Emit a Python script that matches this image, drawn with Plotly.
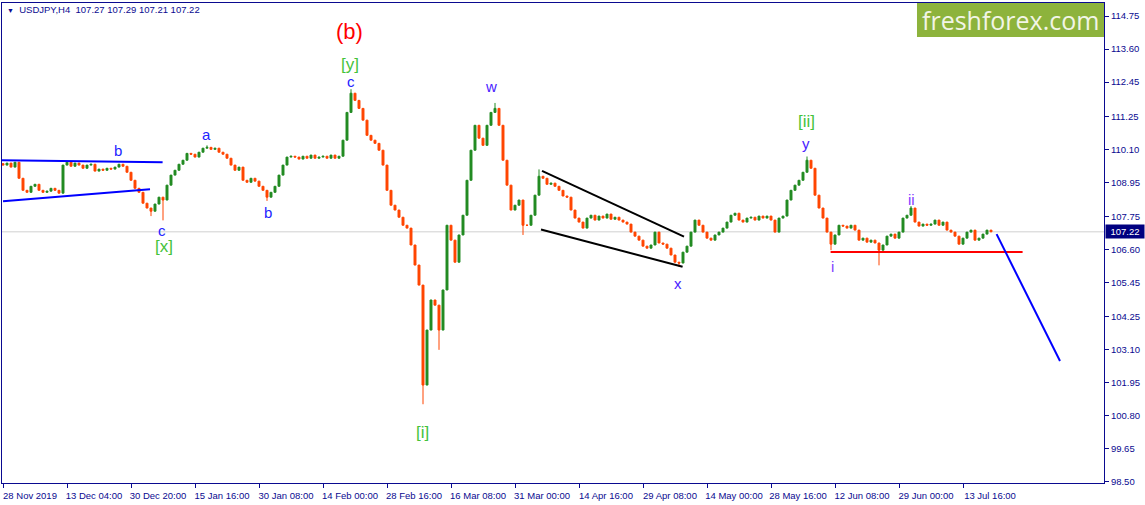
import plotly.graph_objects as go

# ---------------- data ----------------
tick_labels = ["28 Nov 2019", "13 Dec 04:00", "30 Dec 20:00", "15 Jan 16:00", "30 Jan 08:00",
               "14 Feb 00:00", "28 Feb 16:00", "16 Mar 08:00", "31 Mar 00:00", "14 Apr 16:00",
               "29 Apr 08:00", "14 May 00:00", "28 May 16:00", "12 Jun 08:00", "29 Jun 00:00",
               "13 Jul 16:00"]
tick_bars = [0, 16, 32, 48, 64, 80, 96, 112, 128, 144, 160, 176, 192, 208, 224, 240]

first_open = 109.60
closes = [
    109.55, 109.62, 109.48, 109.65, 109.09, 108.67, 108.60, 108.81, 108.88, 108.67,
    108.60, 108.64, 108.74, 108.67, 108.57, 109.55, 109.65, 109.51, 109.62, 109.55,
    109.44, 109.55, 109.58, 109.34, 109.41, 109.37, 109.44, 109.41, 109.48, 109.58,
    109.51, 109.30, 109.02, 108.74, 108.60, 108.22, 108.05, 107.94, 108.19, 108.43,
    108.33, 108.85, 109.20, 109.37, 109.58, 109.72, 109.96, 109.93, 109.83, 110.00,
    110.14, 110.17, 110.10, 110.14, 110.00, 109.93, 109.79, 109.55, 109.37, 109.48,
    109.02, 108.95, 109.09, 108.99, 108.81, 108.67, 108.43, 108.60, 108.81, 109.20,
    109.55, 109.83, 109.86, 109.83, 109.76, 109.86, 109.79, 109.90, 109.79, 109.83,
    109.86, 109.79, 109.90, 109.79, 109.86, 110.42, 111.39, 112.06, 111.81, 111.53,
    111.12, 110.59, 110.42, 110.31, 110.07, 109.55, 108.67, 108.15, 107.98, 107.73,
    107.45, 107.35, 106.76, 106.06, 105.36, 101.87, 103.79, 104.84, 104.66, 103.79,
    105.19, 107.45, 106.93, 106.16, 107.11, 107.80, 109.02, 110.07, 110.94, 110.49,
    110.24, 110.94, 111.39, 111.53, 110.94, 109.72, 108.85, 107.98, 108.15, 108.33,
    107.45, 107.45, 107.80, 108.50, 109.16, 109.09, 108.88, 108.92, 108.81, 108.67,
    108.47, 108.43, 107.98, 107.70, 107.56, 107.35, 107.70, 107.80, 107.63, 107.77,
    107.70, 107.84, 107.66, 107.73, 107.63, 107.56, 107.49, 107.21, 107.07, 106.93,
    106.72, 106.65, 106.76, 107.21, 106.83, 106.79, 106.65, 106.41, 106.16, 106.13,
    106.51, 106.72, 107.21, 107.63, 107.45, 107.21, 107.00, 106.93, 107.11, 107.21,
    107.35, 107.56, 107.80, 107.87, 107.63, 107.56, 107.70, 107.73, 107.63, 107.77,
    107.70, 107.77, 107.63, 107.21, 107.70, 107.77, 108.33, 108.67, 108.85, 109.02,
    109.30, 109.72, 109.44, 108.50, 108.05, 107.70, 107.21, 106.79, 107.11, 107.45,
    107.42, 107.35, 107.45, 107.28, 106.93, 107.00, 106.86, 106.93, 106.83, 106.58,
    106.76, 107.07, 107.14, 107.00, 107.21, 107.70, 107.80, 108.05, 107.56, 107.42,
    107.49, 107.45, 107.49, 107.63, 107.45, 107.56, 107.28, 107.21, 107.07, 106.79,
    107.00, 107.21, 107.28, 106.93, 107.00, 107.14, 107.28, 107.22,
]
# wick extremes (bar index -> price)
spike_high = {51: 110.24, 87: 112.20, 123: 111.72, 134: 109.40, 201: 109.85, 227: 108.12}
spike_low = {37: 107.77, 40: 107.62, 66: 108.30, 105: 101.20, 109: 103.10, 130: 107.11,
             169: 106.00, 207: 106.58, 219: 106.05}

y_ticks = [114.75, 113.60, 112.45, 111.25, 110.10, 108.95, 107.75, 106.60, 105.45,
           104.25, 103.10, 101.95, 100.80, 99.65, 98.50]
last_price = 107.22

# ---------------- build OHLC ----------------
n = len(closes)
bars = list(range(n))
opens = [first_open] + closes[:-1]
highs = [max(o, c) for o, c in zip(opens, closes)]
lows = [min(o, c) for o, c in zip(opens, closes)]
for k, v in spike_high.items():
    highs[k] = max(highs[k], v)
for k, v in spike_low.items():
    lows[k] = min(lows[k], v)

NAVY = "#0a0a90"
FONT = "Liberation Sans"

fig = go.Figure()
fig.add_trace(go.Candlestick(
    x=bars, open=opens, high=highs, low=lows, close=closes,
    increasing=dict(line=dict(color="#228b22", width=1), fillcolor="#228b22"),
    decreasing=dict(line=dict(color="#ff4500", width=1), fillcolor="#ff4500"),
    whiskerwidth=0, showlegend=False, hoverinfo="skip",
))

line_style = lambda c: dict(color=c, width=2)
shapes = [
    # current price line
    dict(type="line", xref="paper", x0=0, x1=1, yref="y", y0=last_price, y1=last_price,
         line=dict(color="#d0d0d0", width=1), layer="below"),
    # triangle lines
    dict(type="line", xref="x", yref="y", x0=-0.25, y0=109.72, x1=39.9, y1=109.65, line=line_style("#0000ff")),
    dict(type="line", xref="x", yref="y", x0=0, y0=108.29, x1=36.75, y1=108.71, line=line_style("#0000ff")),
    # wedge lines
    dict(type="line", xref="x", yref="y", x0=134.75, y0=109.35, x1=170.25, y1=107.05, line=line_style("#000000")),
    dict(type="line", xref="x", yref="y", x0=134.5, y0=107.30, x1=169.9, y1=106.00, line=line_style("#000000")),
    # red support
    dict(type="line", xref="x", yref="y", x0=206.9, y0=106.52, x1=254.9, y1=106.52, line=line_style("#ff0000")),
    # forecast
    dict(type="line", xref="x", yref="y", x0=248.4, y0=107.14, x1=264.25, y1=102.71, line=line_style("#0000ff")),
    # logo box
    dict(type="rect", xref="paper", yref="paper", x0=0.8303, x1=1.0, y0=0.929, y1=1.0,
         fillcolor="#8db33c", line=dict(width=0)),
]

GREEN = "#44c23a"
BLUE = "#2323ff"
VIOLET = "#4a22ff"
PURPLE = "#7d3cff"
labels = [
    ("(b)", 86.5, 114.22, "#ff0000", 22),
    ("[y]", 86.75, 113.07, GREEN, 17),
    ("c", 87, 112.48, BLUE, 15),
    ("w", 122, 112.30, VIOLET, 15),
    ("b", 28.75, 110.07, BLUE, 15),
    ("a", 50.75, 110.63, BLUE, 15),
    ("b", 66.25, 107.91, BLUE, 15),
    ("c", 39.75, 107.27, BLUE, 15),
    ("[x]", 40.25, 106.72, GREEN, 17),
    ("[i]", 104.75, 100.20, GREEN, 17),
    ("x", 168.75, 105.40, VIOLET, 15),
    ("[ii]", 200.75, 111.08, GREEN, 17),
    ("y", 200.75, 110.31, VIOLET, 15),
    ("ii", 227, 108.36, PURPLE, 15),
    ("i", 207.25, 106.02, PURPLE, 15),
]
annotations = [dict(text=t, x=x, y=y, xref="x", yref="y", showarrow=False,
                    xanchor="center", yanchor="middle",
                    font=dict(family=FONT, size=s, color=c)) for t, x, y, c, s in labels]

annotations += [
    dict(text="<span style='font-size:7px'>\u25bc</span>\u00a0\u00a0USDJPY,H4\u00a0\u00a0107.27 107.29 107.21 107.22",
         xref="paper", yref="paper", x=0.003, y=0.986, xanchor="left", yanchor="middle",
         showarrow=False, font=dict(family=FONT, size=9.5, color=NAVY)),
    dict(text="freshforex.com", xref="paper", yref="paper", x=0.915, y=0.964,
         xanchor="center", yanchor="middle", showarrow=False,
         font=dict(family="Open Sans", size=25, color="#f2f5e6")),
    dict(text="%.2f" % last_price, xref="paper", yref="y", x=1.0, y=last_price,
         xanchor="left", yanchor="middle", showarrow=False, xshift=1,
         bgcolor="#000080", borderpad=1, width=36,
         font=dict(family=FONT, size=9.5, color="#ffffff")),
]

fig.update_layout(
    width=1145, height=505,
    margin=dict(l=2, r=41, t=3, b=22),
    paper_bgcolor="#ffffff", plot_bgcolor="#ffffff",
    shapes=shapes, annotations=annotations,
    hovermode=False,
    xaxis=dict(
        range=[-0.25, 275.25], rangeslider=dict(visible=False),
        tickvals=tick_bars, ticktext=tick_labels, ticklabelshift=27,
        ticks="outside", ticklen=4, tickcolor=NAVY,
        showgrid=False, zeroline=False,
        showline=True, linecolor=NAVY, linewidth=1, mirror=True,
        tickfont=dict(family=FONT, size=9.5, color=NAVY),
    ),
    yaxis=dict(
        range=[98.45, 115.21], side="right",
        tickvals=y_ticks, ticktext=["%.2f" % v for v in y_ticks],
        ticks="outside", ticklen=4, tickcolor=NAVY,
        showgrid=False, zeroline=False,
        showline=True, linecolor=NAVY, linewidth=1, mirror=True,
        tickfont=dict(family=FONT, size=9.5, color=NAVY),
    ),
)

fig.write_html("out.html", config={"displayModeBar": False, "staticPlot": True},
               post_script="document.body.style.margin='0';document.body.style.overflow='hidden';")
